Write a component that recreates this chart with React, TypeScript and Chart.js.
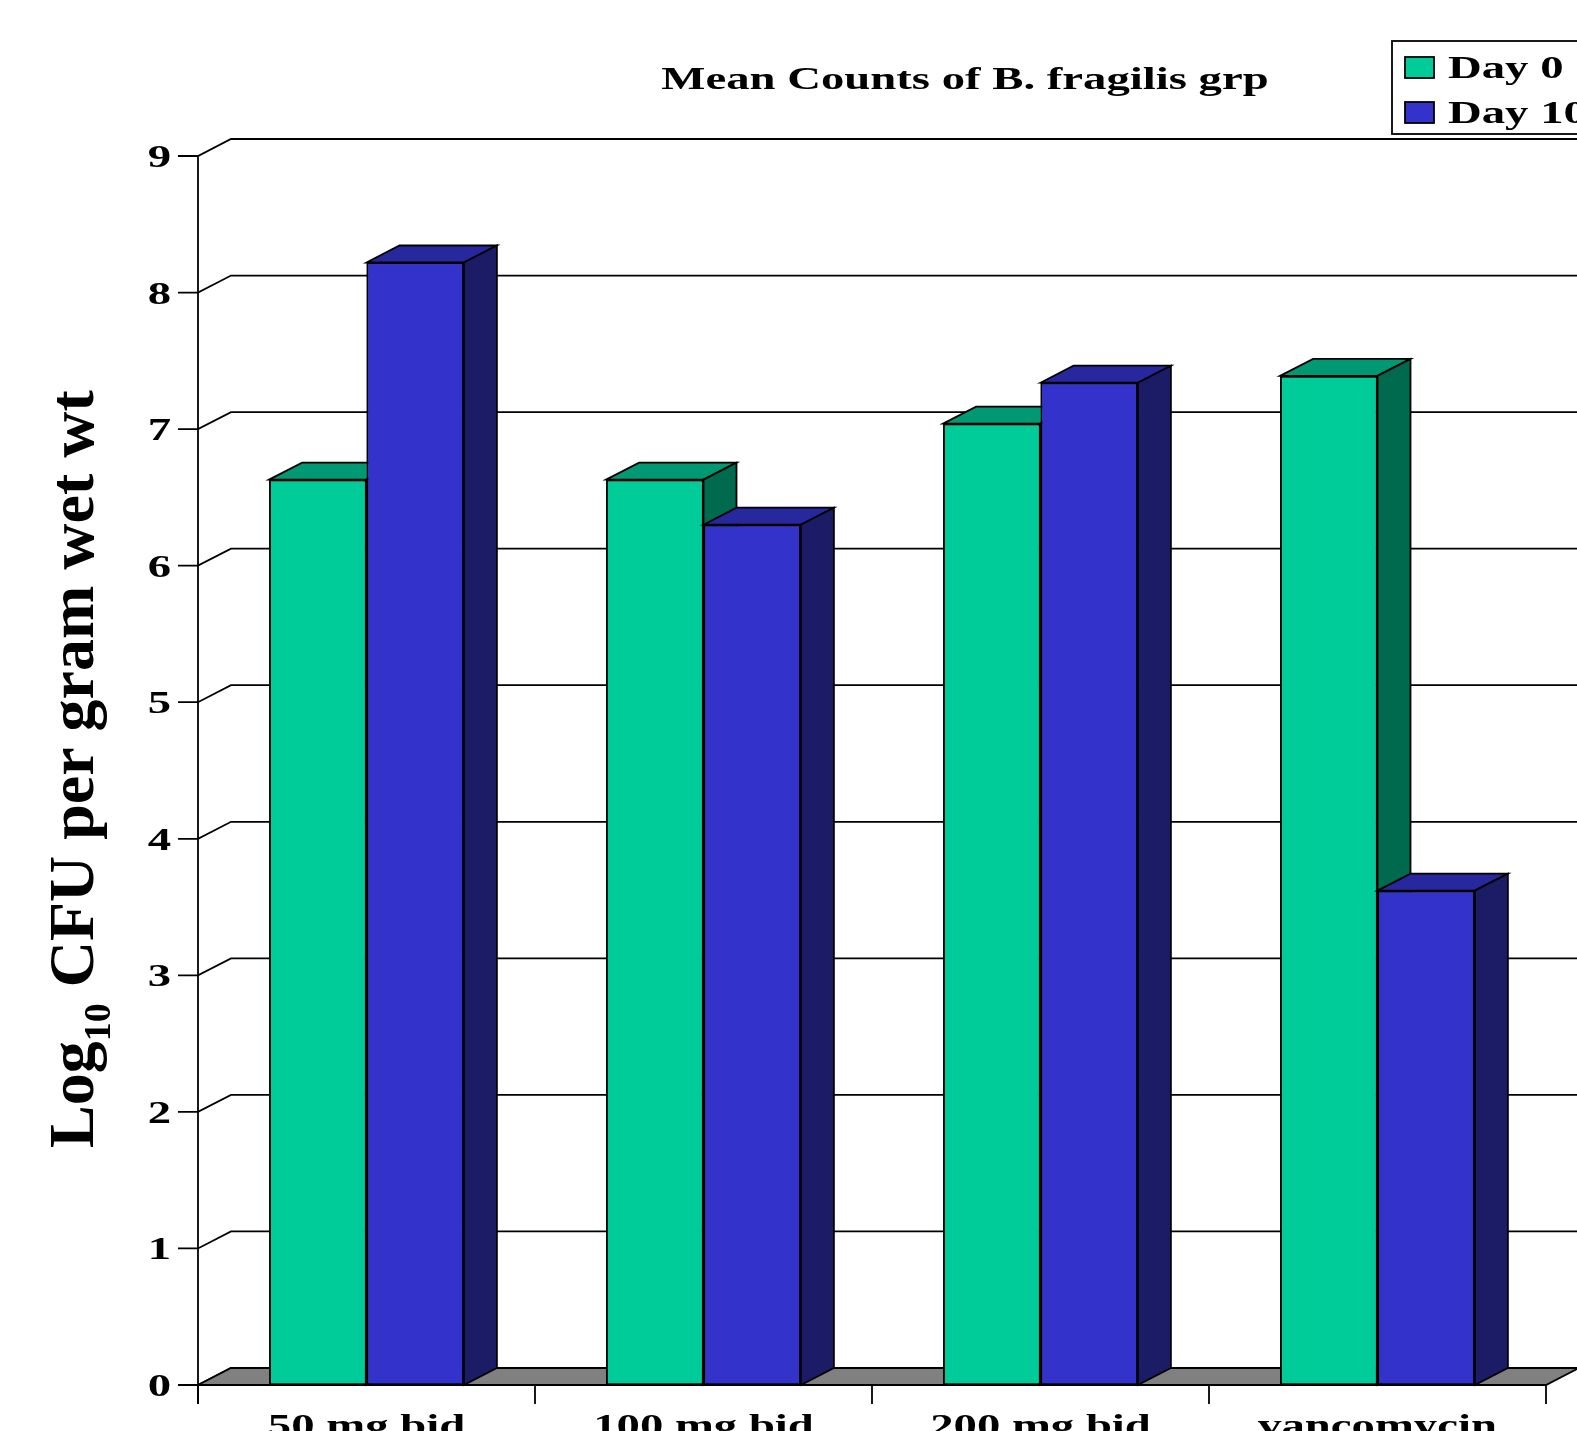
import React, { useEffect, useRef } from "react";
import { Chart, registerables } from "chart.js";

Chart.register(...registerables);

// ---- data ----
const categories = ["50 mg bid", "100 mg bid", "200 mg bid", "vancomycin"];
const day0Values = [6.63, 6.63, 7.04, 7.39];
const day10Values = [8.22, 6.3, 7.34, 3.62];
const seriesLabels = ["Day 0", "Day 10"];
const yTickValues = [0, 1, 2, 3, 4, 5, 6, 7, 8, 9];
const chartTitle = "Mean Counts of B. fragilis grp";
const yTitleParts = ["Log", "10", " CFU per gram wet wt"];

// ---- styles ----
const FRONT = ["#00CC99", "#3333CC"];
const TOP = ["#009974", "#27279E"];
const SIDE = ["#006A4F", "#1C1C66"];
const FLOOR = "#808080";
const DX = 33;
const DY = 17;
const SX = 1.46;
const LW = 1.8;
const FONT = '"Liberation Serif", "Times New Roman", serif';

function stretchedText(ctx: CanvasRenderingContext2D, text: string, x: number, y: number, align: CanvasTextAlign) {
  ctx.save();
  ctx.translate(x, y);
  ctx.scale(SX, 1);
  ctx.textAlign = align;
  ctx.textBaseline = "alphabetic";
  ctx.fillText(text, 0, 0);
  ctx.restore();
}

const threeDPlugin = {
  id: "threeD",
  beforeDatasetsDraw(chart: any) {
    const ctx: CanvasRenderingContext2D = chart.ctx;
    const y = chart.scales.y;
    const x = chart.scales.x;
    const { left, right, top } = chart.chartArea;
    const y0 = y.getPixelForValue(0);
    ctx.save();
    ctx.strokeStyle = "#000";
    ctx.lineWidth = LW;
    ctx.lineJoin = "miter";
    for (const v of yTickValues) {
      const py = y.getPixelForValue(v);
      ctx.beginPath();
      ctx.moveTo(left - 20, py);
      ctx.lineTo(left, py);
      ctx.lineTo(left + DX, py - DY);
      ctx.lineTo(right + DX, py - DY);
      ctx.stroke();
    }
    ctx.beginPath();
    ctx.moveTo(left, y0);
    ctx.lineTo(left + DX, y0 - DY);
    ctx.lineTo(right + DX, y0 - DY);
    ctx.lineTo(right, y0);
    ctx.closePath();
    ctx.fillStyle = FLOOR;
    ctx.fill();
    ctx.stroke();
    ctx.beginPath();
    ctx.moveTo(left, top);
    ctx.lineTo(left, y0 + 19);
    ctx.stroke();
    const n = categories.length;
    const half = (x.getPixelForValue(1) - x.getPixelForValue(0)) / 2;
    for (let i = 0; i <= n; i++) {
      const px = i < n ? x.getPixelForValue(i) - half : x.getPixelForValue(n - 1) + half;
      ctx.beginPath();
      ctx.moveTo(px, y0);
      ctx.lineTo(px, y0 + 19);
      ctx.stroke();
    }
    ctx.restore();
  },
  afterDatasetsDraw(chart: any) {
    const ctx: CanvasRenderingContext2D = chart.ctx;
    const nSets = chart.data.datasets.length;
    for (let i = 0; i < nSets; i++) {
      const meta = chart.getDatasetMeta(i);
      for (const el of meta.data) {
        // redraw the library's bar element so that series are layered left-to-right
        el.draw(ctx, chart.chartArea);
        const p = el.getProps(["x", "y", "base", "width"], true);
        const l = p.x - p.width / 2;
        const r = p.x + p.width / 2;
        const t = p.y;
        const b = p.base;
        ctx.save();
        ctx.strokeStyle = "#000";
        ctx.lineWidth = LW;
        ctx.lineJoin = "miter";
        ctx.beginPath();
        ctx.moveTo(l, t);
        ctx.lineTo(l + DX, t - DY);
        ctx.lineTo(r + DX, t - DY);
        ctx.lineTo(r, t);
        ctx.closePath();
        ctx.fillStyle = TOP[i];
        ctx.fill();
        ctx.stroke();
        ctx.beginPath();
        ctx.moveTo(r, t);
        ctx.lineTo(r + DX, t - DY);
        ctx.lineTo(r + DX, b - DY);
        ctx.lineTo(r, b);
        ctx.closePath();
        ctx.fillStyle = SIDE[i];
        ctx.fill();
        ctx.stroke();
        ctx.restore();
      }
    }
  },
  afterDraw(chart: any) {
    const ctx: CanvasRenderingContext2D = chart.ctx;
    const y = chart.scales.y;
    const x = chart.scales.x;
    const { left } = chart.chartArea;
    ctx.save();
    ctx.fillStyle = "#000";
    ctx.font = `bold 32px ${FONT}`;
    stretchedText(ctx, chartTitle, 965, 89, "center");
    for (const v of yTickValues) {
      stretchedText(ctx, String(v), left - 27, y.getPixelForValue(v) + 11, "right");
    }
    categories.forEach((c, i) => {
      stretchedText(ctx, c, x.getPixelForValue(i), 1436, "center");
    });
    ctx.strokeStyle = "#000";
    ctx.lineWidth = LW;
    ctx.strokeRect(1392, 41, 300, 93);
    const rows = [78, 123];
    seriesLabels.forEach((s, i) => {
      ctx.fillStyle = FRONT[i];
      ctx.fillRect(1405, rows[i] - 21, 29, 21);
      ctx.strokeRect(1405, rows[i] - 21, 29, 21);
      ctx.fillStyle = "#000";
      stretchedText(ctx, s, 1448, rows[i], "left");
    });
    ctx.save();
    ctx.translate(93, 1148);
    ctx.rotate(-Math.PI / 2);
    ctx.textAlign = "left";
    ctx.textBaseline = "alphabetic";
    ctx.font = `bold 64px ${FONT}`;
    ctx.fillText(yTitleParts[0], 0, 0);
    let off = ctx.measureText(yTitleParts[0]).width;
    ctx.font = `bold 38px ${FONT}`;
    ctx.fillText(yTitleParts[1], off, 17);
    off += ctx.measureText(yTitleParts[1]).width;
    ctx.font = `bold 64px ${FONT}`;
    ctx.fillText(yTitleParts[2], off, 0);
    ctx.restore();
    ctx.restore();
  },
};

export default function App() {
  const ref = useRef<HTMLCanvasElement>(null);
  useEffect(() => {
    if (!ref.current) return;
    const chart = new Chart(ref.current, {
      type: "bar",
      data: {
        labels: categories,
        datasets: [
          {
            label: seriesLabels[0],
            data: day0Values,
            backgroundColor: FRONT[0],
            borderColor: "#000",
            borderWidth: LW,
            borderSkipped: false,
          },
          {
            label: seriesLabels[1],
            data: day10Values,
            backgroundColor: FRONT[1],
            borderColor: "#000",
            borderWidth: LW,
            borderSkipped: false,
          },
        ],
      },
      options: {
        responsive: false,
        maintainAspectRatio: false,
        animation: false,
        devicePixelRatio: 1,
        layout: { padding: { left: 198, right: 31, top: 156, bottom: 46 } },
        datasets: { bar: { categoryPercentage: 0.578, barPercentage: 1 } },
        plugins: { legend: { display: false }, tooltip: { enabled: false }, title: { display: false } },
        scales: {
          x: { display: false, offset: true },
          y: { display: false, min: 0, max: 9 },
        },
      },
      plugins: [threeDPlugin],
    } as any);
    return () => chart.destroy();
  }, []);
  return (
    <div style={{ position: "fixed", left: 0, top: 0, width: 1577, height: 1431, overflow: "hidden", background: "#fff" }}>
      <canvas ref={ref} width={1577} height={1431} style={{ display: "block" }} />
    </div>
  );
}
